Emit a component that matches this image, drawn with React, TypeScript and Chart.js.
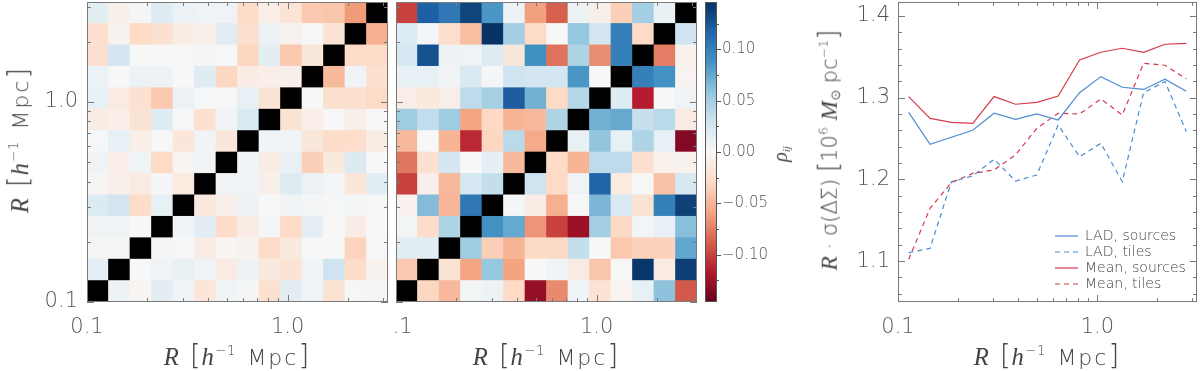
import React, { useEffect, useRef } from 'react';
import { Chart, registerables } from 'chart.js';

Chart.register(...registerables);

// ---------------- data ----------------
// radial bin edges (h^-1 Mpc), 14 log-spaced bins
const R_EDGES = [0.1, 0.128, 0.1638, 0.2096, 0.2683, 0.3434, 0.4394, 0.5623, 0.7197, 0.921, 1.1788, 1.5087, 1.9307, 2.471, 3.1623];
// bin centres used by the profile panel
const R_BINS = [0.1131, 0.1448, 0.1853, 0.2371, 0.3035, 0.3884, 0.4971, 0.6362, 0.8142, 1.042, 1.334, 1.707, 2.185, 2.796];
const BIN_NAMES = R_BINS.map((r) => r.toFixed(3));

// correlation matrices, row 0 = smallest R (bottom row), columns = x bins
const RHO_LEFT = [
  [1, 0.008, -0.003, 0.015, 0.005, -0.018, 0.005, 0.003, -0.024, 0.017, 0.005, -0.021, 0.002, 0.003],
  [0.014, 1, 0, 0.006, 0.011, 0.006, -0.012, 0.008, -0.015, -0.02, 0.005, 0.03, -0.028, -0.005],
  [-0.002, -0.002, 1, 0.003, 0.002, -0.011, -0.003, -0.005, -0.028, -0.015, 0, 0, -0.033, 0.002],
  [0.005, 0.005, 0, 1, 0.005, 0.017, -0.028, -0.011, 0.003, -0.029, 0.014, 0, -0.011, 0],
  [0.021, 0.028, -0.028, 0.012, 1, -0.015, -0.008, 0.008, 0, 0.005, 0.003, 0.002, 0.003, 0],
  [-0.002, -0.008, -0.012, 0.003, -0.014, 1, 0.005, 0.005, -0.008, 0.02, 0.009, 0.003, -0.018, 0.015],
  [0.006, -0.009, 0.006, -0.029, -0.003, 0.005, 1, 0.005, -0.011, 0.012, -0.035, -0.015, 0.021, 0],
  [0.002, 0.012, -0.009, 0, -0.018, 0.005, -0.017, 1, 0.005, 0.005, -0.017, -0.028, -0.027, -0.011],
  [-0.011, -0.009, -0.021, 0.018, 0.002, -0.023, 0.005, 0.023, 1, -0.021, -0.009, 0, -0.008, 0],
  [0.012, -0.012, -0.024, -0.039, 0.009, 0.002, 0, 0.012, -0.021, 1, 0, -0.023, -0.024, -0.029],
  [0.009, 0, 0.009, 0.008, 0, 0.018, -0.031, -0.011, -0.009, -0.008, 1, -0.047, 0.005, -0.023],
  [-0.025, 0.027, 0, 0, 0, 0.003, 0.002, -0.031, 0.015, -0.039, -0.017, 1, -0.028, -0.028],
  [-0.025, -0.005, -0.029, -0.024, -0.011, -0.008, 0.017, -0.025, 0.009, -0.006, 0.002, -0.02, 1, -0.053],
  [0.015, -0.008, 0.003, 0.018, 0.009, 0.006, 0.006, -0.028, -0.009, -0.02, -0.039, -0.04, -0.062, 1],
];

const RHO_RIGHT = [
  [1, -0.031, -0.048, 0.004, 0.008, -0.029, -0.128, -0.07, 0.005, -0.022, -0.004, 0.012, 0.06, -0.09],
  [-0.039, 1, -0.021, -0.058, 0.057, -0.059, 0, 0.005, -0.012, -0.041, 0, 0.142, -0.012, 0.138],
  [0.016, 0.016, 1, 0.052, -0.036, -0.05, -0.03, -0.03, 0.035, 0, -0.039, -0.034, -0.034, 0.076],
  [0.004, -0.028, 0.045, 1, 0.088, 0.075, -0.065, -0.1, -0.125, 0.05, -0.03, 0.004, 0.012, 0.062],
  [-0.006, 0.064, -0.049, 0.105, 1, 0.003, -0.011, -0.053, 0, 0.067, 0.022, -0.021, 0.1, 0.137],
  [-0.1, -0.008, -0.048, 0.026, 0.035, 1, 0.03, -0.029, 0.006, 0.118, -0.014, 0, -0.043, 0.024],
  [-0.078, -0.024, 0.027, 0, 0.013, -0.047, 1, -0.029, -0.05, 0.038, 0.038, -0.023, -0.007, -0.005],
  [-0.047, 0, -0.05, -0.11, -0.031, 0.04, -0.055, 1, 0.01, 0.058, 0.012, 0.045, 0.012, -0.135],
  [0.052, 0.036, 0.052, -0.058, -0.03, -0.05, -0.047, 0.045, 1, 0.07, 0.075, 0.034, 0.04, -0.013],
  [-0.01, -0.015, -0.01, 0.038, 0.048, 0.122, 0.07, -0.029, 0.042, 1, 0.02, -0.115, 0, 0.006],
  [0.012, 0.012, 0.006, 0.022, 0.003, 0.03, 0.027, 0.027, 0.085, 0, 1, 0.1, 0.088, -0.004],
  [0.025, 0.128, 0.008, 0.006, 0.02, -0.017, 0.09, -0.08, 0.045, -0.068, 0.1, 1, -0.075, -0.006],
  [0.02, 0.003, -0.027, -0.045, 0.145, 0.05, -0.029, 0, 0.057, 0.028, 0.1, -0.029, 1, 0.03],
  [-0.1, 0.12, 0.105, 0.135, 0.085, 0.008, -0.06, -0.087, 0.008, -0.008, -0.035, 0.05, 0.01, 1],
];

// R * sigma(DeltaSigma) profiles
const LAD_SOURCES = [1.282, 1.243, 1.2515, 1.26, 1.281, 1.2735, 1.28, 1.2727, 1.306, 1.3257, 1.3127, 1.31, 1.3225, 1.3078];
const LAD_TILES = [1.1103, 1.1156, 1.1972, 1.2042, 1.2246, 1.198, 1.2054, 1.2666, 1.2278, 1.2441, 1.1972, 1.3062, 1.3196, 1.2584];
const MEAN_SOURCES = [1.3013, 1.2747, 1.2698, 1.2686, 1.3013, 1.2919, 1.2943, 1.302, 1.3461, 1.3555, 1.3604, 1.3555, 1.3653, 1.3665];
const MEAN_TILES = [1.1022, 1.1646, 1.196, 1.2074, 1.2115, 1.2299, 1.2625, 1.2809, 1.28, 1.2984, 1.2788, 1.3421, 1.3396, 1.3229];

// ticks
const R_TICKS_MAJOR = [0.1, 1];
const R_TICK_LABELS = ['0.1', '1.0'];
const R_TICKS_MINOR = [0.2, 0.3, 0.4, 0.5, 0.6, 0.7, 0.8, 0.9, 2, 3];
const Y_TICKS = [1.1, 1.2, 1.3, 1.4];
const Y_TICKS_MINOR = [1.06, 1.08, 1.12, 1.14, 1.16, 1.18, 1.22, 1.24, 1.26, 1.28, 1.32, 1.34, 1.36, 1.38];
const Y_MIN = 1.05;
const Y_MAX = 1.417;
const CB_TICKS = [-0.1, -0.05, 0, 0.05, 0.1];
const CB_TICKS_MINOR = [-0.125, -0.075, -0.025, 0.025, 0.075, 0.125];
const RHO_MAX = 0.146;

// ---------------- styling ----------------
const RDBU = ['#67001f', '#b2182b', '#d6604d', '#f4a582', '#fddbc7', '#f7f7f7', '#d1e5f0', '#92c5de', '#4393c3', '#2166ac', '#053061'];
const BLUE = '#4d8bd2';
const RED = '#d63b4c';
const SANS = "'DejaVu Sans', 'Noto Sans', sans-serif";
const SERIF = "'Liberation Serif', 'DejaVu Serif', serif";
const TICK_FONT = { family: SANS, size: 21, weight: 200 as any };
const TICK_COLOR = '#555';
const FRAME_COLOR = '#7a7a7a';

function hexRgb(h: string) {
  const n = parseInt(h.slice(1), 16);
  return [(n >> 16) & 255, (n >> 8) & 255, n & 255];
}

function rhoColor(v: number) {
  if (v >= 0.999) return '#000000';
  const t = Math.max(0, Math.min(1, (v + RHO_MAX) / (2 * RHO_MAX))) * (RDBU.length - 1);
  const i = Math.min(Math.floor(t), RDBU.length - 2);
  const f = t - i;
  const a = hexRgb(RDBU[i]);
  const b = hexRgb(RDBU[i + 1]);
  const c = a.map((x, k) => Math.round(x + (b[k] - x) * f));
  return `rgb(${c[0]},${c[1]},${c[2]})`;
}

// frame + inward tick marks plugin
const frameTicks = {
  id: 'frameTicks',
  afterDatasetsDraw(chart: any, _args: any, opts: any) {
    const { ctx, chartArea: a } = chart;
    ctx.save();
    ctx.strokeStyle = opts.color || FRAME_COLOR;
    ctx.lineWidth = 1;
    ctx.setLineDash([]);
    const xs = opts.xScale ? chart.scales[opts.xScale] : null;
    const ys = opts.yScale ? chart.scales[opts.yScale] : null;
    const drawX = (vals: number[], len: number) => {
      if (!xs) return;
      vals.forEach((v) => {
        const p = Math.round(xs.getPixelForValue(v)) + 0.5;
        ctx.beginPath();
        ctx.moveTo(p, a.bottom);
        ctx.lineTo(p, a.bottom - len);
        ctx.moveTo(p, a.top);
        ctx.lineTo(p, a.top + len);
        ctx.stroke();
      });
    };
    const drawY = (vals: number[], len: number) => {
      if (!ys) return;
      vals.forEach((v) => {
        const p = Math.round(ys.getPixelForValue(v)) + 0.5;
        ctx.beginPath();
        if (opts.yOutsideRight) {
          ctx.moveTo(a.right, p);
          ctx.lineTo(a.right + len, p);
        } else {
          ctx.moveTo(a.left, p);
          ctx.lineTo(a.left + len, p);
          ctx.moveTo(a.right, p);
          ctx.lineTo(a.right - len, p);
        }
        ctx.stroke();
      });
    };
    drawX(opts.xMajor || [], opts.majorLen || 7);
    drawX(opts.xMinor || [], opts.minorLen || 4);
    drawY(opts.yMajor || [], opts.yMajorLen || opts.majorLen || 7);
    drawY(opts.yMinor || [], opts.yMinorLen || opts.minorLen || 4);
    ctx.strokeRect(Math.round(a.left) + 0.5, Math.round(a.top) + 0.5, Math.round(a.width) - 1, Math.round(a.height) - 1);
    ctx.restore();
  },
};

// place legend inside the plot area
const legendPlace = {
  id: 'legendPlace',
  afterLayout(chart: any, _args: any, opts: any) {
    const lg = chart.legend;
    if (!lg) return;
    lg.left = opts.x;
    lg.top = opts.y;
    lg.right = chart.width;
    lg.bottom = opts.y + 200;
  },
};

function rAxis(position: 'bottom' | 'left', showLabels: boolean, size: number) {
  const horizontal = position === 'bottom';
  return {
    type: 'logarithmic',
    position,
    min: R_EDGES[0],
    max: R_EDGES[R_EDGES.length - 1],
    afterBuildTicks: (s: any) => {
      s.ticks = R_TICKS_MAJOR.map((v) => ({ value: v }));
    },
    ticks: {
      display: showLabels,
      autoSkip: false,
      maxRotation: 0,
      padding: horizontal ? 13 : 9,
      font: TICK_FONT,
      color: TICK_COLOR,
      callback: (v: number) => {
        const i = R_TICKS_MAJOR.indexOf(v);
        return i >= 0 ? R_TICK_LABELS[i] : '';
      },
    },
    grid: { display: false, drawTicks: false },
    border: { display: false },
    afterFit: (s: any) => {
      if (horizontal) s.height = size;
      else s.width = size;
      s.paddingLeft = 0;
      s.paddingRight = 0;
      s.paddingTop = 0;
      s.paddingBottom = 0;
    },
  };
}

function heatmapConfig(matrix: number[][], showY: boolean, yWidth: number, padRight: number) {
  const datasets = matrix.map((row, j) => ({
    label: 'R bin ' + (j + 1),
    data: row.map(() => [R_EDGES[j], R_EDGES[j + 1]]),
    backgroundColor: row.map(rhoColor),
    borderWidth: 0,
    barPercentage: 1,
    categoryPercentage: 1,
    grouped: false,
  }));
  return {
    type: 'bar',
    data: { labels: BIN_NAMES, datasets },
    options: {
      responsive: false,
      animation: false,
      events: [],
      layout: { padding: { left: 0, right: padRight, top: 2, bottom: 0 } },
      plugins: {
        legend: { display: false },
        tooltip: { enabled: false },
        frameTicks: {
          xScale: 'xr',
          yScale: 'y',
          xMajor: R_TICKS_MAJOR,
          xMinor: R_TICKS_MINOR,
          yMajor: R_TICKS_MAJOR,
          yMinor: R_TICKS_MINOR,
        },
      },
      scales: {
        x: { type: 'category', display: false, offset: true },
        xr: rAxis('bottom', true, 69),
        y: rAxis('left', showY, yWidth),
      },
    },
    plugins: [frameTicks],
  };
}

function colorbarConfig() {
  return {
    type: 'bar',
    data: {
      labels: ['rho'],
      datasets: [
        {
          label: 'rho',
          data: [[-RHO_MAX, RHO_MAX]],
          backgroundColor: (c: any) => {
            const a = c.chart.chartArea;
            if (!a) return '#fff';
            const g = c.chart.ctx.createLinearGradient(0, a.bottom, 0, a.top);
            RDBU.forEach((col, k) => g.addColorStop(k / (RDBU.length - 1), col));
            return g;
          },
          borderWidth: 0,
          barPercentage: 1,
          categoryPercentage: 1,
        },
      ],
    },
    options: {
      responsive: false,
      animation: false,
      events: [],
      layout: { padding: { left: 5, right: 0, top: 2, bottom: 69 } },
      plugins: {
        legend: { display: false },
        tooltip: { enabled: false },
        frameTicks: {
          yScale: 'y',
          yOutsideRight: true,
          yMajor: CB_TICKS,
          yMinor: CB_TICKS_MINOR,
          yMajorLen: 4,
          yMinorLen: 2,
          color: '#555',
        },
      },
      scales: {
        x: { display: false },
        y: {
          position: 'right',
          min: -RHO_MAX,
          max: RHO_MAX,
          afterBuildTicks: (s: any) => {
            s.ticks = CB_TICKS.map((v) => ({ value: v }));
          },
          ticks: {
            padding: 5,
            font: { family: SANS, size: 15, weight: 200 as any },
            color: TICK_COLOR,
            callback: (v: number) => (Math.abs(v) < 1e-9 ? '0.00' : (v < 0 ? '\u2212' : '') + Math.abs(v).toFixed(2)),
          },
          grid: { display: false, drawTicks: false },
          border: { display: false },
          afterFit: (s: any) => {
            s.width = 73;
            s.paddingTop = 0;
            s.paddingBottom = 0;
          },
        },
      },
    },
    plugins: [frameTicks],
  };
}

function lineDs(label: string, values: number[], color: string, dash: number[]) {
  return {
    label,
    data: R_BINS.map((x, i) => ({ x, y: values[i] })),
    borderColor: color,
    backgroundColor: color,
    borderWidth: 1.2,
    borderDash: dash,
    pointRadius: 0,
    tension: 0,
    fill: false,
  };
}

function profileConfig() {
  return {
    type: 'line',
    data: {
      datasets: [
        lineDs('LAD, sources', LAD_SOURCES, BLUE, []),
        lineDs('LAD, tiles', LAD_TILES, BLUE, [5, 4]),
        lineDs('Mean, sources', MEAN_SOURCES, RED, []),
        lineDs('Mean, tiles', MEAN_TILES, RED, [5, 4]),
      ],
    },
    options: {
      responsive: false,
      animation: false,
      events: [],
      layout: { padding: { left: 0, right: 3, top: 2, bottom: 0 } },
      plugins: {
        tooltip: { enabled: false },
        legend: {
          display: true,
          position: 'chartArea',
          align: 'start',
          labels: {
            usePointStyle: true,
            pointStyle: 'line',
            pointStyleWidth: 23,
            boxWidth: 23,
            boxHeight: 8,
            padding: 2,
            color: '#444',
            font: { family: SANS, size: 14, weight: 200 as any },
            generateLabels: (chart: any) => {
              const items = (Chart.defaults.plugins.legend.labels as any).generateLabels(chart);
              return items.map((it: any) => {
                const ds = chart.data.datasets[it.datasetIndex];
                return {
                  ...it,
                  lineDash: ds.borderDash,
                  lineWidth: ds.borderWidth,
                  strokeStyle: ds.borderColor,
                  pointStyle: 'line',
                };
              });
            },
          },
        },
        legendPlace: { x: 263, y: 227 },
        frameTicks: {
          xScale: 'x',
          yScale: 'y',
          xMajor: R_TICKS_MAJOR,
          xMinor: R_TICKS_MINOR,
          yMajor: Y_TICKS,
          yMinor: Y_TICKS_MINOR,
        },
      },
      scales: {
        x: rAxis('bottom', true, 69),
        y: {
          type: 'linear',
          position: 'left',
          min: Y_MIN,
          max: Y_MAX,
          afterBuildTicks: (s: any) => {
            s.ticks = Y_TICKS.map((v) => ({ value: v }));
          },
          ticks: {
            padding: 8,
            font: TICK_FONT,
            color: TICK_COLOR,
            callback: (v: number) => v.toFixed(1),
          },
          grid: { display: false, drawTicks: false },
          border: { display: false },
          afterFit: (s: any) => {
            s.width = 108;
            s.paddingTop = 0;
            s.paddingBottom = 0;
          },
        },
      },
    },
    plugins: [frameTicks, legendPlace],
  };
}

function ChartCanvas({ left, width, make }: { left: number; width: number; make: () => any }) {
  const ref = useRef<HTMLCanvasElement>(null);
  useEffect(() => {
    const chart = new Chart(ref.current as HTMLCanvasElement, make());
    return () => chart.destroy();
  }, []);
  return (
    <div style={{ position: 'absolute', left, top: 0, width, height: 371, overflow: 'hidden' }}>
      <canvas ref={ref} width={width} height={371} style={{ display: 'block', width, height: 371 }} />
    </div>
  );
}

const titleBase: React.CSSProperties = {
  position: 'absolute',
  fontFamily: SANS,
  fontWeight: 200,
  fontSize: 22,
  color: '#444',
  whiteSpace: 'nowrap',
  lineHeight: 1,
};

const supStyle: React.CSSProperties = { fontSize: '0.6em', verticalAlign: '0.75em', lineHeight: 0 };
const subStyle: React.CSSProperties = { fontSize: '0.6em', verticalAlign: '-0.25em', lineHeight: 0 };
const brk: React.CSSProperties = { fontSize: '1.25em' };
const ital: React.CSSProperties = { fontFamily: SERIF, fontSize: '1.12em' };

function RTitle() {
  return (
    <>
      <i style={ital}>R</i>{' '}
      <span style={brk}>[</span>
      <i style={ital}>h</i>
      <sup style={supStyle}>−1</sup>
      <span style={{ letterSpacing: '2px' }}> Mpc</span>
      <span style={brk}>]</span>
    </>
  );
}

function Label({ cx, cy, rotate, children, style }: { cx: number; cy: number; rotate?: boolean; children: any; style?: React.CSSProperties }) {
  return (
    <div
      style={{
        ...titleBase,
        left: cx,
        top: cy,
        transform: `translate(-50%, -50%)${rotate ? ' rotate(-90deg)' : ''}`,
        ...style,
      }}
    >
      {children}
    </div>
  );
}

const rTitleStyle: React.CSSProperties = { letterSpacing: '1px', wordSpacing: '2px' };

export default function App() {
  return (
    <div style={{ position: 'fixed', left: 0, top: 0, width: 1200, height: 371, background: '#fff', overflow: 'hidden' }}>
      <ChartCanvas left={0} width={392} make={() => heatmapConfig(RHO_LEFT, true, 87, 4)} />
      <ChartCanvas left={391} width={310} make={() => heatmapConfig(RHO_RIGHT, false, 5, 4)} />
      <ChartCanvas left={700} width={90} make={colorbarConfig} />
      <ChartCanvas left={790} width={410} make={profileConfig} />

      <Label cx={19} cy={140} rotate style={rTitleStyle}>
        <RTitle />
      </Label>
      <Label cx={237} cy={356} style={rTitleStyle}>
        <RTitle />
      </Label>
      <Label cx={546} cy={356} style={rTitleStyle}>
        <RTitle />
      </Label>
      <Label cx={1047} cy={356} style={rTitleStyle}>
        <RTitle />
      </Label>
      <Label cx={780} cy={154} rotate style={{ fontSize: 18 }}>
        <i style={ital}>ρ</i>
        <sub style={subStyle}>
          <i style={{ fontFamily: SERIF }}>ij</i>
        </sub>
      </Label>
      <Label cx={828} cy={150} rotate style={{ fontSize: 21 }}>
        <i style={ital}>R</i> · σ(ΔΣ) <span style={brk}>[</span>10<sup style={supStyle}>6</sup>{' '}
        <i style={ital}>M</i>
        <sub style={subStyle}>⊙</sub> pc<sup style={supStyle}>−1</sup>
        <span style={brk}>]</span>
      </Label>
    </div>
  );
}
